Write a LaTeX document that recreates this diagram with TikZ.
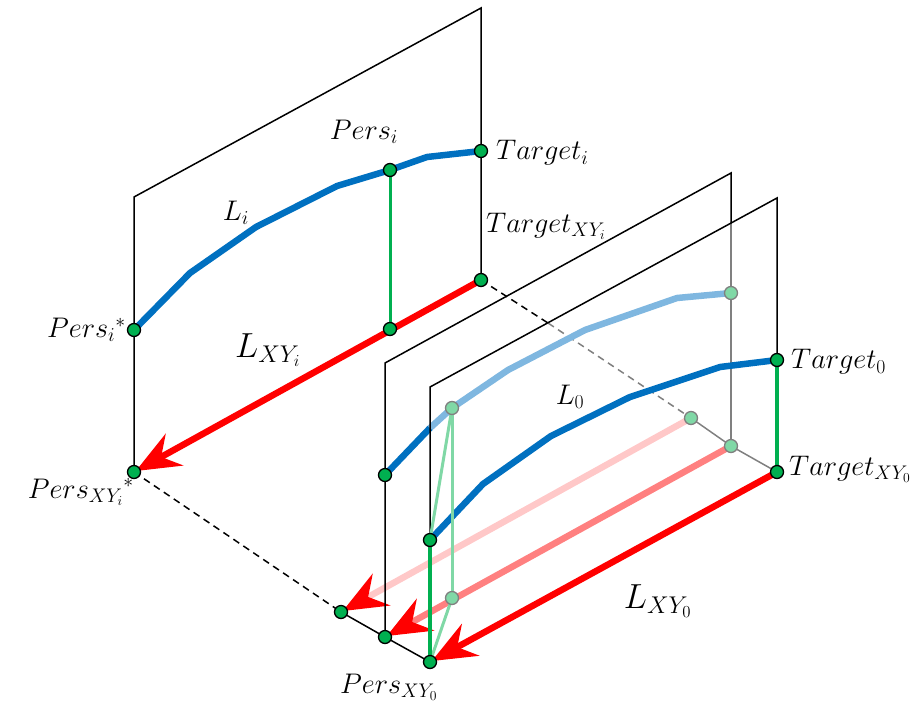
\documentclass[tikz,border=0pt]{standalone}
\usetikzlibrary{arrows.meta}
\definecolor{cblue}{HTML}{0070C0}
\definecolor{clblue}{HTML}{7FB7E0}
\definecolor{cgreen}{HTML}{00B050}
\definecolor{clgreen}{HTML}{80D8A6}
\definecolor{cpink}{HTML}{FFC8C8}
\definecolor{csalmon}{HTML}{FF8080}
\definecolor{cgray}{HTML}{808080}
\tikzset{
 plane/.style={black, line width=1.5pt, line join=miter},
 gplane/.style={cgray, line width=1.5pt},
 curve/.style={cblue, line width=6.5pt, line join=round},
 lcurve/.style={clblue, line width=6.5pt, line join=round},
 redarrow/.style={line width=6.5pt, -{Stealth[length=44pt,width=36pt,inset=15pt,color=red]}, shorten >=2pt},
 pt/.style={circle, draw=black, fill=cgreen, line width=1.3pt, minimum size=13pt, inner sep=0pt},
 lpt/.style={circle, draw=cgray, fill=clgreen, line width=1.3pt, minimum size=13pt, inner sep=0pt},
 lbl/.style={font=\fontsize{24}{28}\selectfont, inner sep=0pt, scale=1.14},
 biglbl/.style={font=\fontsize{24}{28}\selectfont, inner sep=0pt, scale=1.4},
 gline/.style={cgreen, line width=3.5pt},
 lgline/.style={clgreen, line width=3pt},
}
\begin{document}
\begin{tikzpicture}[x=1pt,y=-1pt]
\useasboundingbox (0,0) rectangle (912,707);
% back plane
\coordinate (bTL) at (134,197);
\coordinate (bTR) at (481,8);
\coordinate (bT) at (481,151);
\coordinate (bTxy) at (481,280);
\coordinate (bPs) at (134,330);
\coordinate (bPxy) at (134,472);
\coordinate (bP) at (390,170);
\coordinate (bPp) at (390,329);
% hidden plane
\coordinate (hTxy) at (691,418);
\coordinate (hPxy) at (341,612);
\coordinate (dX) at (548,323);
% middle plane
\coordinate (mTL) at (385,363);
\coordinate (mTR) at (731,173);
\coordinate (mX) at (731,223);
\coordinate (mT) at (731,293);
\coordinate (mTxy) at (731,446);
\coordinate (mP) at (385,475);
\coordinate (mPxy) at (385,637);
\coordinate (mC) at (430,428);
% front plane
\coordinate (fTL) at (430,387);
\coordinate (fTR) at (777,198);
\coordinate (fT) at (777,360);
\coordinate (fTxy) at (777,472);
\coordinate (fP) at (430,540);
\coordinate (fPxy) at (430,662);
\coordinate (g1) at (452,408);
\coordinate (g2) at (452,598);

% back plane outline
\draw[plane] (bPxy) -- (bTL) -- (bTR) -- (bTxy);
% depth lines
\draw[plane, dash pattern=on 7pt off 5pt] (bTxy) -- (dX);
\draw[gplane, dash pattern=on 7pt off 5pt] (dX) -- (hTxy);
\draw[plane, dash pattern=on 7pt off 5pt] (bPxy) -- (hPxy);
\draw[gplane] (hTxy) -- (mTxy) -- (fTxy);
\draw[plane] (hPxy) -- (mPxy) -- (fPxy);
% back content
\draw[curve] (bPs) -- (190,273) -- (256,227) -- (337,186) -- (bP) -- (427,157) -- (bT);
\draw[gline, line width=3pt] (bP) -- (bPp);
\draw[redarrow, red] (bTxy) -- (bPxy);
% hidden arrow
\draw[redarrow, cpink] (hTxy) -- (hPxy);
% middle plane
\draw[plane] (mPxy) -- (mTL) -- (mTR) -- (mX);
\draw[gplane] (mX) -- (mTxy);
\draw[lcurve] (mC) -- (g1) -- (508,370) -- (585,330) -- (677,298) -- (mT);
\draw[curve] (mP) -- (mC);
\draw[redarrow, csalmon] (mTxy) -- (mPxy);
% front plane
\draw[plane] (fPxy) -- (fTL) -- (fTR) -- (fTxy);
\draw[curve] (fP) -- (483,484) -- (551,436) -- (630,397) -- (720,367) -- (fT);
\draw[lgline] (g1) -- (g2);
\draw[lgline] (g1) -- (fP);
\draw[lgline] (g2) -- (fPxy);
\draw[gline] (fP) -- (fPxy);
\draw[gline] (fT) -- (fTxy);
\draw[redarrow, red] (fTxy) -- (fPxy);
% points
\foreach \p in {bPs,bPxy,bP,bPp,bT,bTxy,hPxy,mPxy,mP,fP,fPxy,fT,fTxy}
  \node[pt] (n\p) at (\p) {};
\foreach \p in {g1,g2,hTxy,mTxy,mT}
  \node[lpt] (n\p) at (\p) {};
% labels
\node[lbl] (lPersi) at (364,132) {$Pers_i$};
\node[lbl, anchor=west] (lTargeti) at (496,153) {$Target_i$};
\node[lbl] (lLi) at (236,213) {$L_i$};
\node[lbl, anchor=west] (lTargetXYi) at (486,226) {$Target_{XY_i}$};
\node[lbl, anchor=east] (lPersis) at (126,330) {$Pers_i{}^{*}$};
\node[biglbl] (lLXYi) at (268,350) {$L_{XY_i}$};
\node[lbl, anchor=east] (lPersXYis) at (134,492) {$Pers_{XY_i}{}^{*}$};
\node[lbl] (lL0) at (570,397) {$L_0$};
\node[lbl, anchor=west] (lTarget0) at (791,362) {$Target_0$};
\node[lbl, anchor=west] (lTargetXY0) at (789,469) {$Target_{XY_0}$};
\node[biglbl] (lLXY0) at (658,601) {$L_{XY_0}$};
\node[lbl] (lPersXY0) at (389,687) {$Pers_{XY_0}$};
\end{tikzpicture}
\end{document}
